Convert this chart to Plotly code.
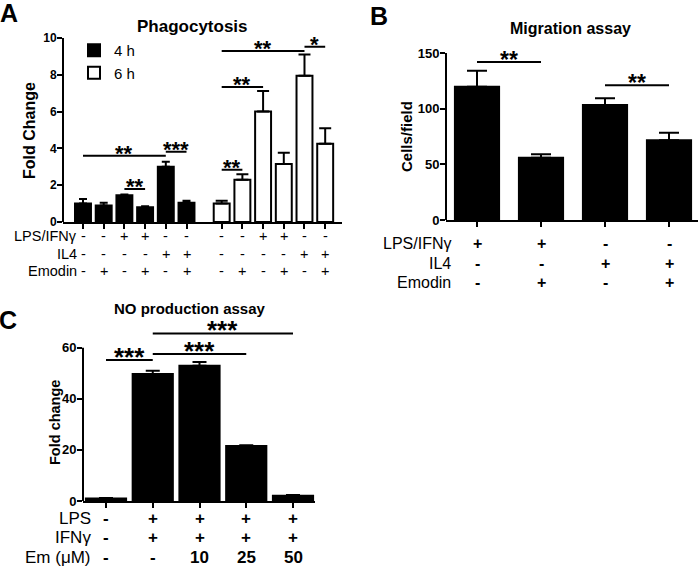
import plotly.graph_objects as go

W, H = 700, 568
FONT = "Liberation Sans, Arial, sans-serif"

def px(x):
    return x / W

def py(y):
    return 1 - y / H

# ---------------- Panel A data ----------------
a_4h_vals = [1.0, 0.9, 1.45, 0.8, 3.0, 1.05]
a_4h_err = [1.25, 1.05, 1.5, 0.85, 3.28, 1.15]
a_6h_vals = [1.0, 2.3, 6.0, 3.15, 7.95, 4.25]
a_6h_err = [1.15, 2.6, 7.12, 3.77, 9.1, 5.1]
a_row_labels = ["LPS/IFNγ", "IL4", "Emodin"]
a_rows = [
    ["-", "-", "+", "+", "-", "-", "-", "-", "+", "+", "-", "-"],
    ["-", "-", "-", "-", "+", "+", "-", "-", "-", "-", "+", "+"],
    ["-", "+", "-", "+", "-", "+", "-", "+", "-", "+", "-", "+"],
]
# significance: (bar index from, bar index to, height, label)  indices 0-11
a_sig = [(0, 4, 3.6, "**"), (4, 5, 3.82, "***"), (2, 3, 1.8, "**"),
         (6, 7, 2.84, "**"), (6, 8, 7.34, "**"), (6, 10, 9.3, "**"), (10, 11, 9.53, "*")]

# ---------------- Panel B data ----------------
b_vals = [119.8, 56.0, 103.3, 71.6]
b_err = [134.0, 59.0, 109.3, 78.4]
b_row_labels = ["LPS/IFNγ", "IL4", "Emodin"]
b_rows = [["+", "+", "-", "-"], ["-", "-", "+", "+"], ["-", "+", "-", "+"]]
b_sig = [(0, 1, 142, "**"), (2, 3, 121, "**")]

# ---------------- Panel C data ----------------
c_vals = [1.0, 49.7, 52.9, 21.5, 2.1]
c_err = [1.2, 51.0, 54.4, 21.8, 2.3]
c_row_labels = ["LPS", "IFNγ", "Em (μM)"]
c_rows = [["-", "+", "+", "+", "+"], ["-", "+", "+", "+", "+"], ["-", "-", "10", "25", "50"]]
c_sig = [(0, 1, 55.2, "***"), (1, 3, 57.5, "***"), (1, 4, 65.6, "***")]

# x positions (group gap in panel A)
a_x4 = [i for i in range(6)]
a_x6 = [i + 6.7 for i in range(6)]
a_xall = a_x4 + a_x6
b_x = list(range(4))
c_x = list(range(5))

fig = go.Figure()

def err(vals, tops):
    return [t - v for t, v in zip(tops, vals)]

fig.add_trace(go.Bar(x=a_x4, y=a_4h_vals, name="4 h", width=0.77,
                     marker=dict(color="black", line=dict(color="black", width=2)),
                     error_y=dict(type="data", symmetric=False, array=err(a_4h_vals, a_4h_err),
                                  arrayminus=[0] * 6, color="black", thickness=2, width=4),
                     xaxis="x", yaxis="y", legendgroup="a", showlegend=True))
fig.add_trace(go.Bar(x=a_x6, y=a_6h_vals, name="6 h", width=0.77,
                     marker=dict(color="white", line=dict(color="black", width=2)),
                     error_y=dict(type="data", symmetric=False, array=err(a_6h_vals, a_6h_err),
                                  arrayminus=[0] * 6, color="black", thickness=2, width=6),
                     xaxis="x", yaxis="y", legendgroup="b", showlegend=True))
fig.add_trace(go.Bar(x=b_x, y=b_vals, width=0.69, showlegend=False,
                     marker=dict(color="black", line=dict(color="black", width=2)),
                     error_y=dict(type="data", symmetric=False, array=err(b_vals, b_err),
                                  arrayminus=[0] * 4, color="black", thickness=2, width=10),
                     xaxis="x2", yaxis="y2"))
fig.add_trace(go.Bar(x=c_x, y=c_vals, width=0.86, showlegend=False,
                     marker=dict(color="black", line=dict(color="black", width=2)),
                     error_y=dict(type="data", symmetric=False, array=err(c_vals, c_err),
                                  arrayminus=[0] * 5, color="black", thickness=2, width=7),
                     xaxis="x3", yaxis="y3"))

def tickfont(size):
    return dict(family=FONT, size=size, color="black", weight="bold")

def xax(dom, rng, tv, anchor):
    return dict(domain=dom, range=rng, showgrid=False, zeroline=False, showline=True,
                linecolor="black", linewidth=2, ticks="outside", ticklen=5, tickwidth=2,
                tickcolor="black", tickvals=tv, showticklabels=False, fixedrange=True,
                anchor=anchor, automargin=False)

def yax(dom, rng, tv, anchor, fs):
    return dict(domain=dom, range=rng, showgrid=False, zeroline=False, showline=False,
                ticks="outside", ticklen=5, tickwidth=2, tickcolor="black", tickvals=tv,
                tickfont=tickfont(fs), anchor=anchor, fixedrange=True, automargin=False,
                ticklabelstandoff=-2)

# panel A geometry: bar k at 83 + 20.7k px, y0 at 222 px, 18.4 px/unit
a_ppu = 18.4
a_ytop = 10.8
# panel B geometry: bar k at 477 + 64k px, y0 at 220 px, 1.1133 px/unit
b_ppu = 1.1133
b_ytop = 158
# panel C geometry: bar k at 106 + 46.75k px, y0 at 501 px, 2.555 px/unit
c_ppu = 2.555
c_ytop = 70
fig.update_layout(
    xaxis=xax([px(63), px(342)], [(63 - 83) / 20.7, (342 - 83) / 20.7], a_xall, "y"),
    yaxis=yax([py(222), py(222 - a_ytop * a_ppu)], [0, a_ytop], [0, 2, 4, 6, 8, 10], "x", 12),
    xaxis2=xax([px(446), px(698)], [(446 - 477) / 64, (698 - 477) / 64], b_x, "y2"),
    yaxis2=yax([py(220), py(220 - b_ytop * b_ppu)], [0, b_ytop], [0, 50, 100, 150], "x2", 13),
    xaxis3=xax([px(83), px(315)], [(83 - 106) / 46.75, (315 - 106) / 46.75], c_x, "y3"),
    yaxis3=yax([py(501), py(501 - c_ytop * c_ppu)], [0, c_ytop], [0, 20, 40, 60], "x3", 13),
)

shapes = []
annotations = []

# manual y-axis lines ending at the top tick
for xa, ya, top in [("x", "y", 10), ("x2", "y2", 150), ("x3", "y3", 60)]:
    shapes.append(dict(type="line", xref=xa + " domain", yref=ya, x0=0, x1=0, y0=0, y1=top,
                       line=dict(color="black", width=2)))

def add_sig(sigs, xs, xa, ya, fs):
    for i0, i1, h, lab in sigs:
        shapes.append(dict(type="line", xref=xa, yref=ya, x0=xs[i0], x1=xs[i1], y0=h, y1=h,
                           line=dict(color="black", width=2)))
        annotations.append(dict(x=(xs[i0] + xs[i1]) / 2, y=h, xref=xa, yref=ya, text=lab,
                                showarrow=False, yanchor="middle", yshift=int(fs * 0.12),
                                font=dict(family=FONT, size=fs, color="black", weight="bold")))

add_sig(a_sig, a_xall, "x", "y", 22)
add_sig(b_sig, b_x, "x2", "y2", 23)
add_sig(c_sig, c_x, "x3", "y3", 26)

def add_rows(labels, rows, xs, xa, ys, label_right, fs, bold_signs):
    for lab, row, yy in zip(labels, rows, ys):
        annotations.append(dict(x=px(label_right), y=py(yy), xref="paper", yref="paper", text=lab,
                                showarrow=False, xanchor="right", yanchor="middle", borderpad=0,
                                font=dict(family=FONT, size=fs, color="black")))
        for xv, s in zip(xs, row):
            annotations.append(dict(x=xv, y=py(yy), xref=xa, yref="paper", text=s,
                                    showarrow=False, xanchor="center", yanchor="middle", borderpad=0,
                                    font=dict(family=FONT, size=fs, color="black",
                                              weight="bold" if bold_signs else "normal")))

add_rows(a_row_labels, a_rows, a_xall, "x", [236, 253.5, 271], 78, 14.5, False)
add_rows(b_row_labels, b_rows, b_x, "x2", [243, 263, 283], 452, 16, True)
add_rows(c_row_labels, c_rows, c_x, "x3", [518, 537, 557], 92, 17, True)

def txt(x, y, t, size, bold=True, angle=0, xanchor="center"):
    annotations.append(dict(x=px(x), y=py(y), xref="paper", yref="paper", text=t, showarrow=False,
                            xanchor=xanchor, yanchor="middle", textangle=angle, borderpad=0,
                            font=dict(family=FONT, size=size, color="black",
                                      weight="bold" if bold else "normal")))

# titles
txt(192, 26, "Phagocytosis", 17)
txt(570, 28, "Migration assay", 16)
txt(190, 308, "NO production assay", 15)
# y-axis titles
txt(29, 130, "Fold Change", 16, angle=-90)
txt(407, 137, "Cells/field", 15, angle=-90)
txt(55, 423, "Fold change", 14.5, angle=-90)
# panel letters
txt(-1, 13, "A", 25, xanchor="left")
txt(369, 16, "B", 25, xanchor="left")
txt(-2, 320, "C", 25, xanchor="left")

fig.update_layout(
    width=W, height=H, margin=dict(l=0, r=0, t=0, b=0, autoexpand=False),
    paper_bgcolor="white", plot_bgcolor="white",
    shapes=shapes, annotations=annotations, barmode="overlay",
    legend=dict(x=px(74), y=py(34), xanchor="left", yanchor="top", tracegroupgap=0,
                font=dict(family=FONT, size=15, color="black"), bgcolor="rgba(0,0,0,0)"),
    font=dict(family=FONT, color="black"),
)

fig.write_html("out.html", config={"displayModeBar": False},
               post_script="document.body.style.margin='0';")
